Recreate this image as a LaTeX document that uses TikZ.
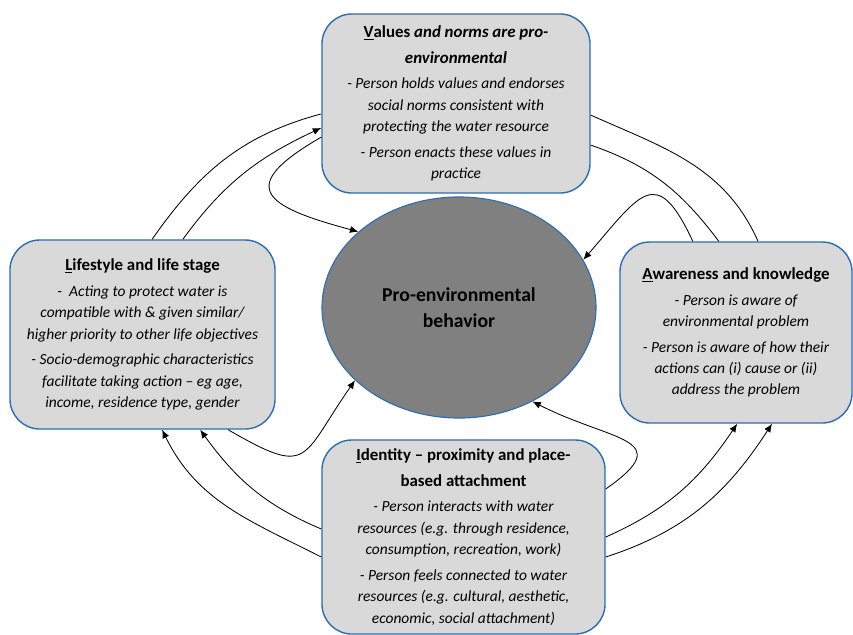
\documentclass[tikz,border=0pt]{standalone}
\usepackage{fontspec}
\setmainfont{Carlito}
\usetikzlibrary{shapes.geometric,arrows.meta}
\definecolor{boxblue}{RGB}{47,109,178}
\definecolor{boxgray}{RGB}{217,217,217}
\definecolor{coregray}{RGB}{128,128,128}
\newcommand{\ftitle}[1]{{\fontsize{12}{15}\selectfont\bfseries\upshape #1}}

\begin{document}
\begin{tikzpicture}[x=0.025cm, y=-0.025cm,
  factor/.style={draw=boxblue, line width=1pt, fill=boxgray, rounded corners=0.75cm, inner sep=0pt, align=center, font=\fontsize{11}{15.2}\selectfont\itshape},
  core/.style={draw=boxblue, line width=0.8pt, fill=coregray, ellipse, inner sep=0pt, align=center, font=\fontsize{14}{18.5}\selectfont\bfseries},
  link/.style={line width=0.6pt},
  arr/.style={link, -{Latex[length=6pt,width=5pt]}}]
\useasboundingbox (0,0) rectangle (853,634);
\node[core, minimum width=6.85cm, minimum height=5.525cm] (PEB) at (459,307.5) {Pro-environmental\\behavior};
\node[factor, minimum width=6.7cm, minimum height=4.475cm] (Val) at (456,103.5) {\ftitle{\underline{V}alues \textit{and norms are pro-}}\\[3pt]\ftitle{\textit{environmental}}\\[3pt]- Person holds values and endorses\\social norms consistent with\\protecting the water resource\\[3pt]- Person enacts these values in\\practice};
\node[factor, minimum width=6.625cm, minimum height=4.725cm] (Life) at (142.5,334.5) {\ftitle{\underline{L}ifestyle and life stage}\\[3pt]-~~Acting to protect water is\\compatible with \& given similar/\\higher priority to other life objectives\\[3pt]- Socio-demographic characteristics\\facilitate taking action – eg age,\\income, residence type, gender};
\node[factor, minimum width=5.8cm, minimum height=4.525cm] (Aware) at (736,332.5) {\ftitle{\underline{A}wareness and knowledge}\\[3pt]- Person is aware of\\environmental problem\\[3pt]- Person is aware of how their\\actions can (i) cause or (ii)\\address the problem};
\node[factor, minimum width=7.075cm, minimum height=4.85cm] (Ident) at (463.5,537) {\ftitle{\underline{I}dentity – proximity and place-}\\[3pt]\ftitle{based attachment}\\[3pt]- Person interacts with water\\resources (e.g. through residence,\\consumption, recreation, work)\\[3pt]- Person feels connected to water\\resources (e.g. cultural, aesthetic,\\economic, social attachment)};
\draw[link] ([xshift=0.24cm]Life.north) to[out=55,in=195] ([yshift=-0.26cm]Val.west);
\draw[arr] ([xshift=1.01cm]Life.north) to[out=54,in=205] ([yshift=-0.61cm]Val.west);
\draw[arr] ([yshift=-0.84cm]Val.west) to[out=210,in=165,looseness=2.5] (PEB.143);
\draw[link] ([yshift=-0.29cm]Val.east) to[out=-24,in=114] ([xshift=0.55cm]Aware.north);
\draw[link] ([yshift=-1.04cm]Val.east) to[out=-19,in=127] ([xshift=-0.43cm]Aware.north);
\draw[arr] ([xshift=-1.08cm]Aware.north) to[out=115,in=49,looseness=2] (PEB.21);
\draw[arr] ([xshift=2.14cm]Life.south) to[out=-30,in=235,looseness=1.8] (PEB.215);
\draw[arr] ([yshift=0.2cm]Ident.west) to[out=157,in=-54] ([xshift=1.44cm]Life.south);
\draw[arr] ([yshift=-0.5cm]Ident.west) to[out=153,in=-64] ([xshift=0.49cm]Life.south);
\draw[arr] (Ident.east) to[out=24,in=-124] ([xshift=0.03cm]Aware.south);
\draw[arr] ([yshift=-0.5cm]Ident.east) to[out=18,in=-123] ([xshift=0.9cm]Aware.south);
\draw[arr] ([yshift=1.2cm]Ident.east) to[out=35,in=-27,looseness=2] (PEB.308);
\end{tikzpicture}
\end{document}
